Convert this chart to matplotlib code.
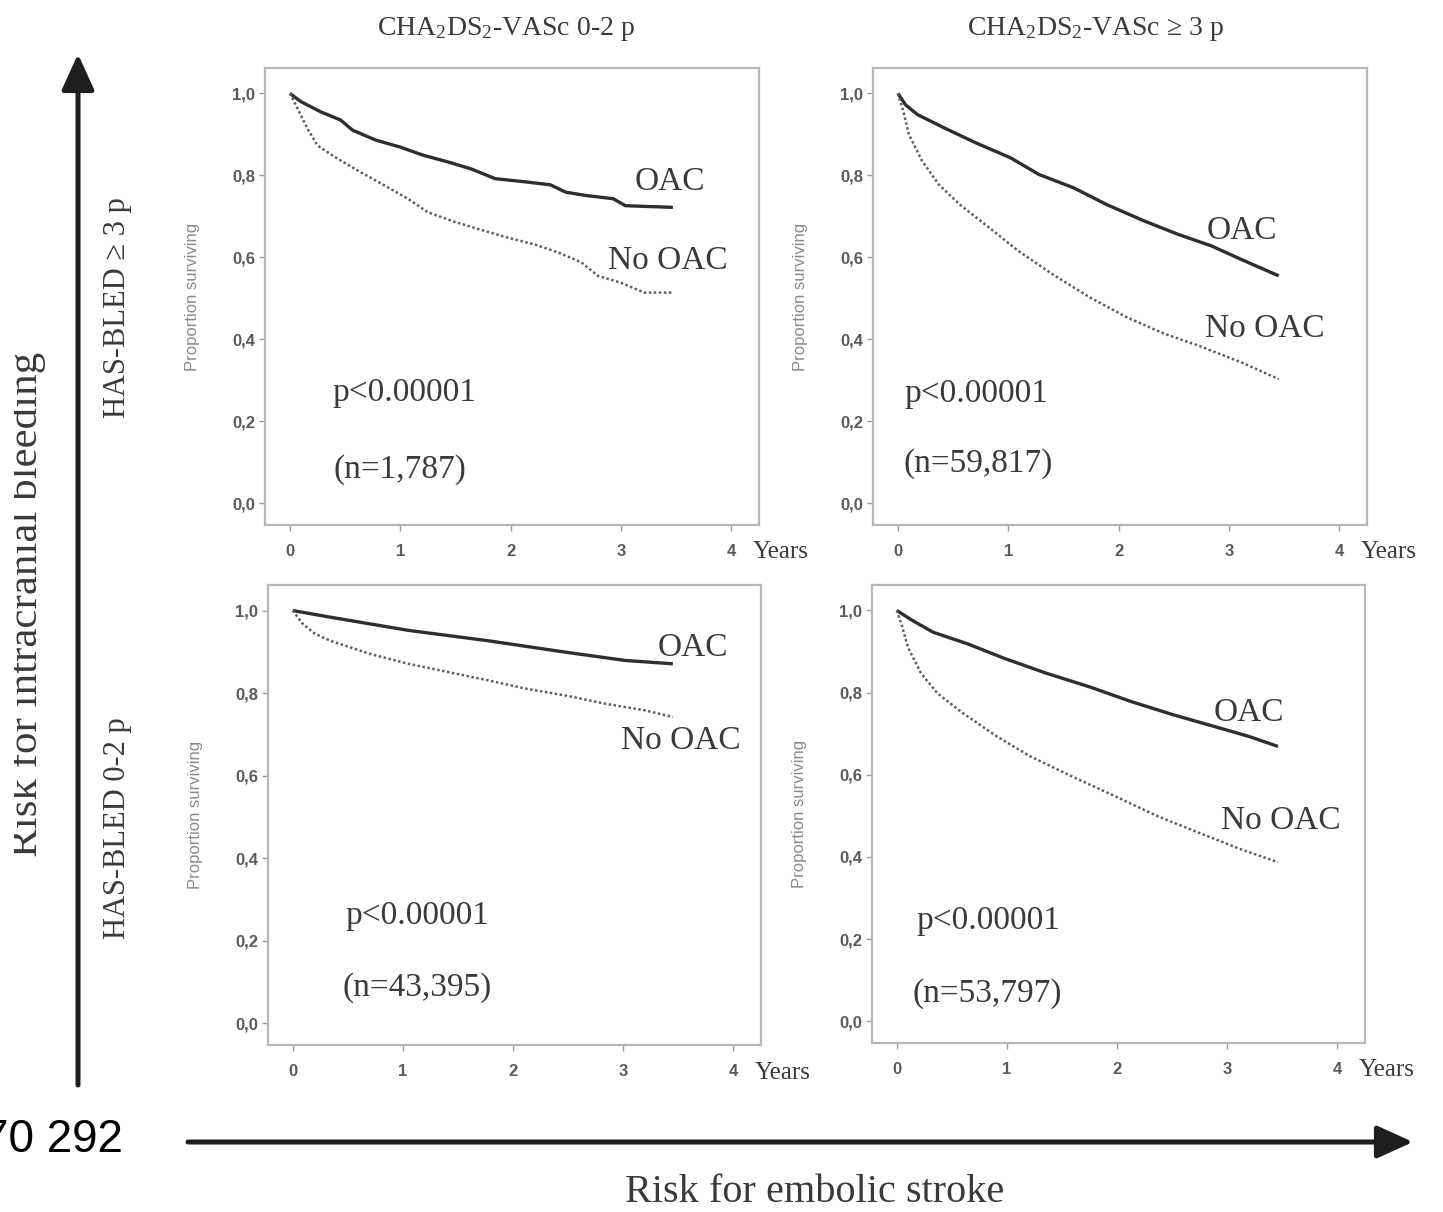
import matplotlib
matplotlib.use('Agg')
from matplotlib import pyplot as plt
from matplotlib.transforms import Bbox, TransformedBbox
import matplotlib.ticker as ticker

plt.rcParams['mathtext.fontset'] = 'custom'
plt.rcParams['mathtext.rm'] = 'Liberation Serif'
plt.rcParams['mathtext.it'] = 'Liberation Serif:italic'

SERIF = 'Liberation Serif'
SANS = 'Liberation Sans'
TEXT_COL = '#3a3a3a'

# ---- data (years, proportion surviving) ----
# HAS-BLED >= 3, CHA2DS2-VASc 0-2
tl_oac_t = [0.0, 0.10, 0.28, 0.46, 0.57, 0.78, 1.00, 1.21, 1.43, 1.64, 1.86, 2.14, 2.36, 2.50, 2.68, 2.93, 3.04, 3.47]
tl_oac_s = [1.0, 0.980, 0.955, 0.935, 0.910, 0.886, 0.869, 0.849, 0.833, 0.816, 0.792, 0.784, 0.777, 0.759, 0.751, 0.743, 0.726, 0.722]
tl_no_t = [0.0, 0.07, 0.16, 0.25, 0.43, 0.64, 0.86, 1.07, 1.25, 1.50, 1.71, 1.96, 2.21, 2.43, 2.64, 2.79, 3.00, 3.21, 3.47]
tl_no_s = [1.0, 0.963, 0.914, 0.873, 0.841, 0.808, 0.775, 0.743, 0.710, 0.686, 0.669, 0.649, 0.632, 0.612, 0.588, 0.555, 0.538, 0.514, 0.514]

# HAS-BLED >= 3, CHA2DS2-VASc >= 3
tr_oac_t = [0.0, 0.07, 0.18, 0.45, 0.71, 1.02, 1.28, 1.59, 1.89, 2.23, 2.54, 2.84, 3.11, 3.45]
tr_oac_s = [1.0, 0.972, 0.948, 0.912, 0.879, 0.843, 0.802, 0.770, 0.729, 0.689, 0.656, 0.628, 0.595, 0.555]
tr_no_t = [0.0, 0.05, 0.10, 0.22, 0.37, 0.56, 0.83, 1.09, 1.40, 1.74, 2.08, 2.42, 2.73, 3.11, 3.45]
tr_no_s = [1.0, 0.956, 0.900, 0.835, 0.778, 0.729, 0.672, 0.616, 0.559, 0.502, 0.453, 0.413, 0.384, 0.344, 0.303]

# HAS-BLED 0-2, CHA2DS2-VASc 0-2
bl_oac_t = [0.0, 0.34, 1.05, 1.77, 2.48, 3.02, 3.45]
bl_oac_s = [1.0, 0.984, 0.952, 0.927, 0.899, 0.879, 0.871]
bl_no_t = [0.0, 0.09, 0.20, 0.34, 0.70, 1.05, 1.41, 1.77, 2.13, 2.48, 2.84, 3.20, 3.45]
bl_no_s = [1.0, 0.968, 0.944, 0.927, 0.895, 0.871, 0.851, 0.831, 0.810, 0.794, 0.774, 0.758, 0.742]

# HAS-BLED 0-2, CHA2DS2-VASc >= 3
br_oac_t = [0.0, 0.14, 0.33, 0.64, 0.98, 1.36, 1.75, 2.13, 2.51, 2.89, 3.20, 3.46]
br_oac_s = [1.0, 0.976, 0.947, 0.919, 0.883, 0.847, 0.814, 0.778, 0.746, 0.717, 0.693, 0.669]
br_no_t = [0.0, 0.05, 0.10, 0.22, 0.37, 0.60, 0.91, 1.21, 1.59, 1.98, 2.36, 2.74, 3.12, 3.46]
br_no_s = [1.0, 0.960, 0.911, 0.847, 0.798, 0.750, 0.693, 0.645, 0.596, 0.548, 0.500, 0.459, 0.419, 0.387]

n_labels = ['(n=1,787)', '(n=59,817)', '(n=43,395)', '(n=53,797)']
p_label = 'p<0.00001'
col_titles = [r'CHA$_2$DS$_2$-VASc 0-2 p', r'CHA$_2$DS$_2$-VASc ≥ 3 p']
row_titles = ['HAS-BLED ≥ 3 p', 'HAS-BLED 0-2 p']
x_ticks = [0, 1, 2, 3, 4]
y_ticks = [0.0, 0.2, 0.4, 0.6, 0.8, 1.0]

W, H = 1443, 1212


def px_axes(fig, left, top, right, bottom):
    return fig.add_axes([left / W, 1 - bottom / H, (right - left) / W, (bottom - top) / H])


def comma_fmt(value, tick_number):
    return '{:.1f}'.format(value).replace('.', ',')


fig = plt.figure(figsize=(W / 100, H / 100), dpi=100, facecolor='w')

# background axes in pixel units for arrows and outer labels
bg = fig.add_axes([0, 0, 1, 1], zorder=0)
bg.set_xlim(0, W)
bg.set_ylim(H, 0)
bg.axis('off')

panels = [
    # frame (px), oac, no oac, label positions (data coords)
    dict(frame=(265, 68, 759, 525), oac=(tl_oac_t, tl_oac_s), no=(tl_no_t, tl_no_s),
         oac_lab=(3.44, 0.785), no_lab=(3.42, 0.592), p_pos=(0.39, 0.27), n_pos=(0.40, 0.083), n=n_labels[0]),
    dict(frame=(873, 68, 1367, 525), oac=(tr_oac_t, tr_oac_s), no=(tr_no_t, tr_no_s),
         oac_lab=(3.12, 0.664), no_lab=(3.32, 0.426), p_pos=(0.06, 0.268), n_pos=(0.05, 0.097), n=n_labels[1]),
    dict(frame=(268, 585, 761, 1045), oac=(bl_oac_t, bl_oac_s), no=(bl_no_t, bl_no_s),
         oac_lab=(3.63, 0.91), no_lab=(3.52, 0.685), p_pos=(0.48, 0.26), n_pos=(0.45, 0.087), n=n_labels[2]),
    dict(frame=(872, 585, 1365, 1043), oac=(br_oac_t, br_oac_s), no=(br_no_t, br_no_s),
         oac_lab=(3.20, 0.75), no_lab=(3.49, 0.489), p_pos=(0.18, 0.245), n_pos=(0.145, 0.068), n=n_labels[3]),
]

for pn in panels:
    ax = px_axes(fig, *pn['frame'])
    ax.set_zorder(1)
    ax.plot(pn['oac'][0], pn['oac'][1], color='#2e2e2e', lw=2.4, solid_capstyle='butt')
    ax.plot(pn['no'][0], pn['no'][1], color='#5e5e5e', lw=1.8, linestyle=(0, (1.0, 1.0)))
    ax.set_xlim(-0.225, 4.25)
    ax.set_ylim(-0.053, 1.062)
    ax.set_xticks(x_ticks)
    ax.set_yticks(y_ticks)
    ax.yaxis.set_major_formatter(ticker.FuncFormatter(comma_fmt))
    for sp in ax.spines.values():
        sp.set_color('#b8b8b8')
        sp.set_linewidth(1.6)
    ax.tick_params(direction='out', length=4, width=1, color='#9a9a9a',
                   labelcolor='#5a5a5a', labelsize=12, pad=3)
    ax.tick_params(axis='x', pad=10)
    for lab in ax.get_xticklabels() + ax.get_yticklabels():
        lab.set_fontfamily(SANS)
        lab.set_fontweight('bold')
    ax.set_ylabel('Proportion surviving', fontsize=12, color='#8a8a8a', family=SANS)
    ax.yaxis.set_label_coords(-0.132, 0.5)
    ax.annotate('Years', xy=(4.19, -0.06), xycoords=('data', 'axes fraction'),
                ha='left', va='center', fontsize=18, family=SERIF, color=TEXT_COL,
                annotation_clip=False)
    ax.text(*pn['oac_lab'], 'OAC', ha='center', va='center', fontsize=24, family=SERIF, color=TEXT_COL)
    ax.text(*pn['no_lab'], 'No OAC', ha='center', va='center', fontsize=24, family=SERIF, color=TEXT_COL)
    ax.text(*pn['p_pos'], p_label, ha='left', va='center', fontsize=24, family=SERIF, color=TEXT_COL)
    ax.text(*pn['n_pos'], pn['n'], ha='left', va='center', fontsize=24, family=SERIF, color=TEXT_COL)

# column and row headers
for x, t in zip([506, 1095], col_titles):
    bg.text(x, 29, t, ha='center', va='center', fontsize=20, family=SERIF, color=TEXT_COL)
for y, t in zip([308, 828], row_titles):
    bg.text(118, y, t, ha='center', va='center', rotation=90, fontsize=22, family=SERIF, color=TEXT_COL)

# big arrows
arrow_style = dict(arrowstyle='-|>,head_length=1.1,head_width=0.5', lw=3.6,
                   color='#1e1e1e', shrinkA=0, shrinkB=0, mutation_scale=20)
bg.annotate('', xy=(78, 54), xytext=(78, 1085), arrowprops=arrow_style)
bg.annotate('', xy=(1413, 1142), xytext=(188, 1142), arrowprops=arrow_style)

# outer axis captions
t = bg.text(37, 604, 'Risk for intracranial bleeding', rotation=90, rotation_mode='anchor',
            ha='center', va='baseline', fontsize=31, family=SERIF, color=TEXT_COL)
t.set_clip_box(TransformedBbox(Bbox([[14 / W, 0], [70 / W, 1]]), fig.transFigure))
t.set_clip_on(True)
bg.text(815, 1202, 'Risk for embolic stroke', ha='center', va='baseline', fontsize=29,
        family=SERIF, color=TEXT_COL)
bg.text(123, 1152, '70 292', ha='right', va='baseline', fontsize=33, family=SANS, color='black')

plt.savefig('out.png', dpi=100, facecolor='w')
plt.close()
